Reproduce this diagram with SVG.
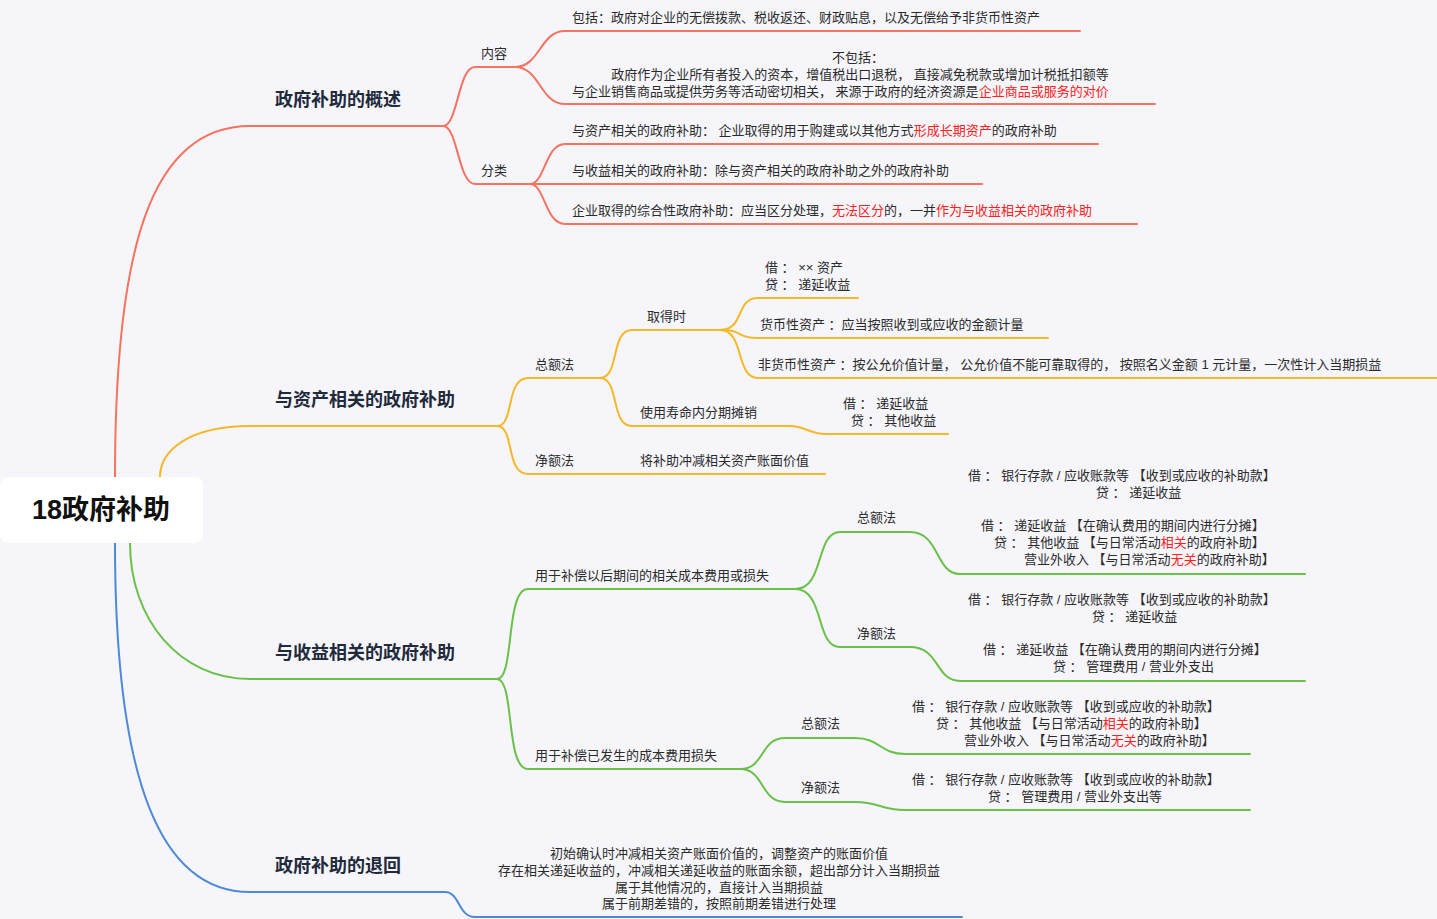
<svg xmlns="http://www.w3.org/2000/svg" width="1437" height="919" viewBox="0 0 1437 919">
<style>
text{font-family:"Liberation Sans","Noto Sans CJK SC",sans-serif;font-size:13px;fill:#2b2b2b}
.m{font-size:18px;font-weight:bold;fill:#1f2a3a}
.r{fill:#ff2020}
.c{text-anchor:middle}
path{fill:none;stroke-width:2;stroke-linecap:round}
.R path{stroke:#f5735f}.O path{stroke:#f6b827}.G path{stroke:#6ac148}.B path{stroke:#4d8ad8}
</style>
<rect width="1437" height="919" fill="#f5f5fa"/>
<g id="connectors">
<g class="R">
<path d="M115,477 C115,250 150,126 250,126 L443,126"/>
<path d="M443,126 C458,126 458,67 475,67 L515,67"/>
<path d="M443,126 C458,126 458,184 475,184 L530,184"/>
<path d="M515,67 C540,67 540,31 565,31 L1080,31"/>
<path d="M515,67 C540,67 540,104 565,104 L1155,104"/>
<path d="M530,184 C545,184 545,144 565,144 L1098,144"/>
<path d="M530,184 L982,184"/>
<path d="M530,184 C545,184 545,224 565,224 L1137,224"/>
</g>
<g class="O">
<path d="M160,477 C160,450 190,426 250,426 L497,426"/>
<path d="M497,426 C515,426 505,378 528,378 L600,378"/>
<path d="M497,426 C515,426 505,474 528,474 L825,474"/>
<path d="M600,378 C620,378 610,330 632,330 L720,330"/>
<path d="M600,378 C620,378 610,426 632,426 L790,426 C805,426 810,434 825,434 L948,434"/>
<path d="M720,330 C745,330 735,298 758,298 L858,298"/>
<path d="M720,330 C745,330 735,338 758,338 L1048,338"/>
<path d="M720,330 C745,330 735,378 758,378 L1437,378"/>
</g>
<g class="G">
<path d="M130,543 C130,620 180,679 250,679 L497,679"/>
<path d="M497,679 C515,679 505,589 528,589 L795,589"/>
<path d="M497,679 C515,679 505,769 528,769 L740,769"/>
<path d="M795,589 C825,589 815,532 840,532 L910,532 C940,532 935,574 960,574 L1305,574"/>
<path d="M795,589 C825,589 815,647 840,647 L910,647 C940,647 935,681 960,681 L1305,681"/>
<path d="M740,769 C765,769 760,738 785,738 L855,738 C880,738 880,754 905,754 L1250,754"/>
<path d="M740,769 C765,769 760,802 785,802 L855,802 C880,802 880,810 905,810 L1250,810"/>
</g>
<g class="B">
<path d="M115,543 C115,780 160,892 250,892 L445,892 C460,892 458,917 475,917 L962,917"/>
</g>
</g>
<g id="root"><rect x="0" y="477" width="203" height="66" rx="8" fill="#fff"/><text x="101" y="519" class="c" style="font-size:27px;font-weight:bold;fill:#111">18政府补助</text></g>
<g id="n1"><text x="275" y="106" class="m">政府补助的概述</text></g>
<g id="n2"><text x="275" y="406" class="m">与资产相关的政府补助</text></g>
<g id="n3"><text x="275" y="659" class="m">与收益相关的政府补助</text></g>
<g id="n4"><text x="275" y="872" class="m">政府补助的退回</text></g>
<g id="n1a"><text x="481" y="58">内容</text></g>
<g id="n1b"><text x="481" y="175">分类</text></g>
<g id="n1a1"><text x="572" y="22">包括：政府对企业的无偿拨款、税收返还、财政贴息，以及无偿给予非货币性资产</text></g>
<g id="n1a2"><text x="858" y="62" class="c">不包括：</text><text x="860" y="79" class="c">政府作为企业所有者投入的资本，增值税出口退税， 直接减免税款或增加计税抵扣额等</text><text x="572" y="96">与企业销售商品或提供劳务等活动密切相关， 来源于政府的经济资源是<tspan class="r">企业商品或服务的对价</tspan></text></g>
<g id="n1b1"><text x="572" y="135">与资产相关的政府补助： 企业取得的用于购建或以其他方式<tspan class="r">形成长期资产</tspan>的政府补助</text></g>
<g id="n1b2"><text x="572" y="175">与收益相关的政府补助：除与资产相关的政府补助之外的政府补助</text></g>
<g id="n1b3"><text x="572" y="215">企业取得的综合性政府补助：应当区分处理，<tspan class="r">无法区分</tspan>的，一并<tspan class="r">作为与收益相关的政府补助</tspan></text></g>
<g id="n2a"><text x="535" y="369">总额法</text></g>
<g id="n2b"><text x="535" y="465">净额法</text></g>
<g id="n2a1"><text x="647" y="321">取得时</text></g>
<g id="n2a2"><text x="640" y="417">使用寿命内分期摊销</text><text x="843" y="408">借 ： 递延收益</text><text x="851" y="425">贷 ： 其他收益</text></g>
<g id="n2a1a"><text x="765" y="272">借 ： ×× 资产</text><text x="765" y="289">贷 ： 递延收益</text></g>
<g id="n2a1b"><text x="760" y="329">货币性资产 ：应当按照收到或应收的金额计量</text></g>
<g id="n2a1c"><text x="758" y="369">非货币性资产 ：按公允价值计量， 公允价值不能可靠取得的， 按照名义金额 1 元计量，一次性计入当期损益</text></g>
<g id="n2b1"><text x="640" y="465">将补助冲减相关资产账面价值</text></g>
<g id="n3a"><text x="535" y="580">用于补偿以后期间的相关成本费用或损失</text></g>
<g id="n3b"><text x="535" y="760">用于补偿已发生的成本费用损失</text></g>
<g id="n3a1"><text x="857" y="522">总额法</text><text x="968" y="480">借 ： 银行存款 / 应收账款等 【收到或应收的补助款】</text><text x="1096" y="497">贷 ： 递延收益</text><text x="981" y="530">借 ： 递延收益 【在确认费用的期间内进行分摊】</text><text x="994" y="547">贷 ： 其他收益 【与日常活动<tspan class="r">相关</tspan>的政府补助】</text><text x="1024" y="564">营业外收入 【与日常活动<tspan class="r">无关</tspan>的政府补助】</text></g>
<g id="n3a2"><text x="857" y="638">净额法</text><text x="968" y="604">借 ： 银行存款 / 应收账款等 【收到或应收的补助款】</text><text x="1092" y="621">贷 ： 递延收益</text><text x="983" y="654">借 ： 递延收益 【在确认费用的期间内进行分摊】</text><text x="1053" y="671">贷 ： 管理费用 / 营业外支出</text></g>
<g id="n3b1"><text x="801" y="728">总额法</text><text x="912" y="711">借 ： 银行存款 / 应收账款等 【收到或应收的补助款】</text><text x="936" y="728">贷 ： 其他收益 【与日常活动<tspan class="r">相关</tspan>的政府补助】</text><text x="964" y="745">营业外收入 【与日常活动<tspan class="r">无关</tspan>的政府补助】</text></g>
<g id="n3b2"><text x="801" y="792">净额法</text><text x="912" y="784">借 ： 银行存款 / 应收账款等 【收到或应收的补助款】</text><text x="988" y="801">贷 ： 管理费用 / 营业外支出等</text></g>
<g id="n4a"><text x="719" y="858" class="c">初始确认时冲减相关资产账面价值的，调整资产的账面价值</text><text x="719" y="875" class="c">存在相关递延收益的，冲减相关递延收益的账面余额，超出部分计入当期损益</text><text x="719" y="892" class="c">属于其他情况的，直接计入当期损益</text><text x="719" y="908" class="c">属于前期差错的，按照前期差错进行处理</text></g>
</svg>
